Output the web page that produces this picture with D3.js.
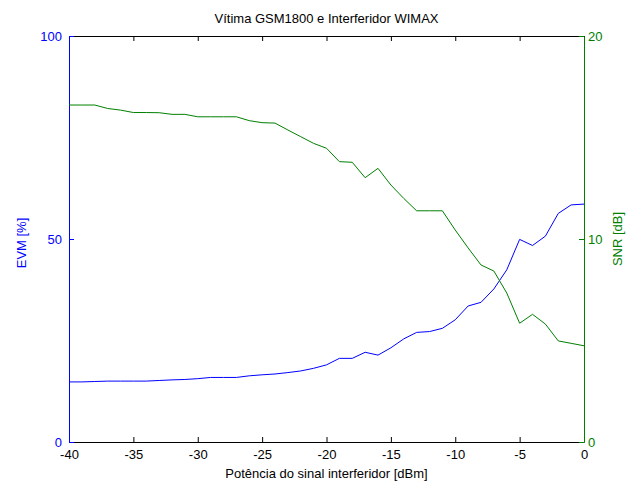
<!DOCTYPE html>
<html><head><meta charset="utf-8">
<script src="https://cdn.jsdelivr.net/npm/d3@7"></script>
<style>body{margin:0;background:#fff}svg{display:block}text{font-family:"Liberation Sans",Arial,sans-serif}</style>
</head><body><div id="chart"></div>
<script>
const powerDbm = [-40,-39,-38,-37,-36,-35,-34,-33,-32,-31,-30,-29,-28,-27,-26,-25,-24,-23,-22,-21,-20,-19,-18,-17,-16,-15,-14,-13,-12,-11,-10,-9,-8,-7,-6,-5,-4,-3,-2,-1,0];
const evmPct = [14.8,14.8,14.9,15.0,15.0,15.0,15.0,15.15,15.3,15.4,15.6,15.9,15.9,15.9,16.3,16.55,16.75,17.1,17.5,18.15,19.0,20.6,20.6,22.1,21.4,23.2,25.4,27.0,27.2,28.0,30.1,33.5,34.4,37.7,42.4,49.9,48.4,50.7,56.3,58.4,58.6];
const snrDb = [16.6,16.6,16.6,16.43,16.35,16.23,16.23,16.22,16.14,16.14,16.02,16.02,16.02,16.02,15.83,15.73,15.71,15.37,15.04,14.71,14.47,13.81,13.78,13.02,13.48,12.66,12.0,11.39,11.39,11.39,10.44,9.56,8.72,8.42,7.34,5.85,6.29,5.81,4.98,4.86,4.74];
const xTicks = [-40,-35,-30,-25,-20,-15,-10,-5,0];
const evmTicks = [0,50,100];
const snrTicks = [0,10,20];
const title = "Vítima GSM1800 e Interferidor WIMAX";
const xLabel = "Potência do sinal interferidor [dBm]";
const evmLabel = "EVM [%]";
const snrLabel = "SNR [dB]";

const W = 634, H = 486;
const m = {left: 69, right: 50, top: 36, bottom: 44};
const iw = W - m.left - m.right, ih = H - m.top - m.bottom;
const blue = "#0000ff", green = "#008000";
const fmt = d => String(d);

const svg = d3.select("#chart").append("svg").attr("width", W).attr("height", H);
const g = svg.append("g").attr("transform", `translate(${m.left},${m.top})`);

const x = d3.scaleLinear().domain([-40, 0]).range([0, iw]);
const yL = d3.scaleLinear().domain([0, 100]).range([ih, 0]);
const yR = d3.scaleLinear().domain([0, 20]).range([ih, 0]);

function styleAxis(sel, color) {
  sel.select(".domain").attr("stroke", color);
  sel.selectAll(".tick line").attr("stroke", color);
  sel.selectAll(".tick text").attr("fill", color).attr("font-size", 13).attr("font-family", "\"Liberation Sans\",Arial,sans-serif");
}

const xTop = g.append("g").call(d3.axisTop(x).tickValues(xTicks).tickSizeInner(-5).tickSizeOuter(0).tickFormat(""));
styleAxis(xTop, "#000");
const xBot = g.append("g").attr("transform", `translate(0,${ih})`)
  .call(d3.axisBottom(x).tickValues(xTicks).tickSizeInner(-5).tickSizeOuter(0).tickPadding(8).tickFormat(fmt));
styleAxis(xBot, "#000");
const yLa = g.append("g").call(d3.axisLeft(yL).tickValues(evmTicks).tickSizeInner(-5).tickSizeOuter(0).tickPadding(7).tickFormat(fmt));
styleAxis(yLa, blue);
const yRa = g.append("g").attr("transform", `translate(${iw},0)`)
  .call(d3.axisRight(yR).tickValues(snrTicks).tickSizeInner(-5).tickSizeOuter(0).tickPadding(4).tickFormat(fmt));
styleAxis(yRa, green);

const evmLine = d3.line().x((d, i) => x(powerDbm[i])).y(d => yL(d));
const snrLine = d3.line().x((d, i) => x(powerDbm[i])).y(d => yR(d));

g.append("path").datum(evmPct).attr("d", evmLine).attr("fill", "none").attr("stroke", blue).attr("stroke-width", 1);
g.append("path").datum(snrDb).attr("d", snrLine).attr("fill", "none").attr("stroke", green).attr("stroke-width", 1);

svg.append("text").attr("x", m.left + iw / 2).attr("y", 23).attr("text-anchor", "middle")
  .attr("font-size", 13).attr("fill", "#000").text(title);
svg.append("text").attr("x", m.left + iw / 2).attr("y", 478).attr("text-anchor", "middle")
  .attr("font-size", 13).attr("fill", "#000").text(xLabel);
svg.append("text").attr("transform", `translate(26,${m.top + ih / 2 + 4}) rotate(-90)`).attr("text-anchor", "middle")
  .attr("font-size", 13).attr("fill", blue).text(evmLabel);
svg.append("text").attr("transform", `translate(622,${m.top + ih / 2}) rotate(-90)`).attr("text-anchor", "middle")
  .attr("font-size", 13).attr("fill", green).text(snrLabel);
</script></body></html>
